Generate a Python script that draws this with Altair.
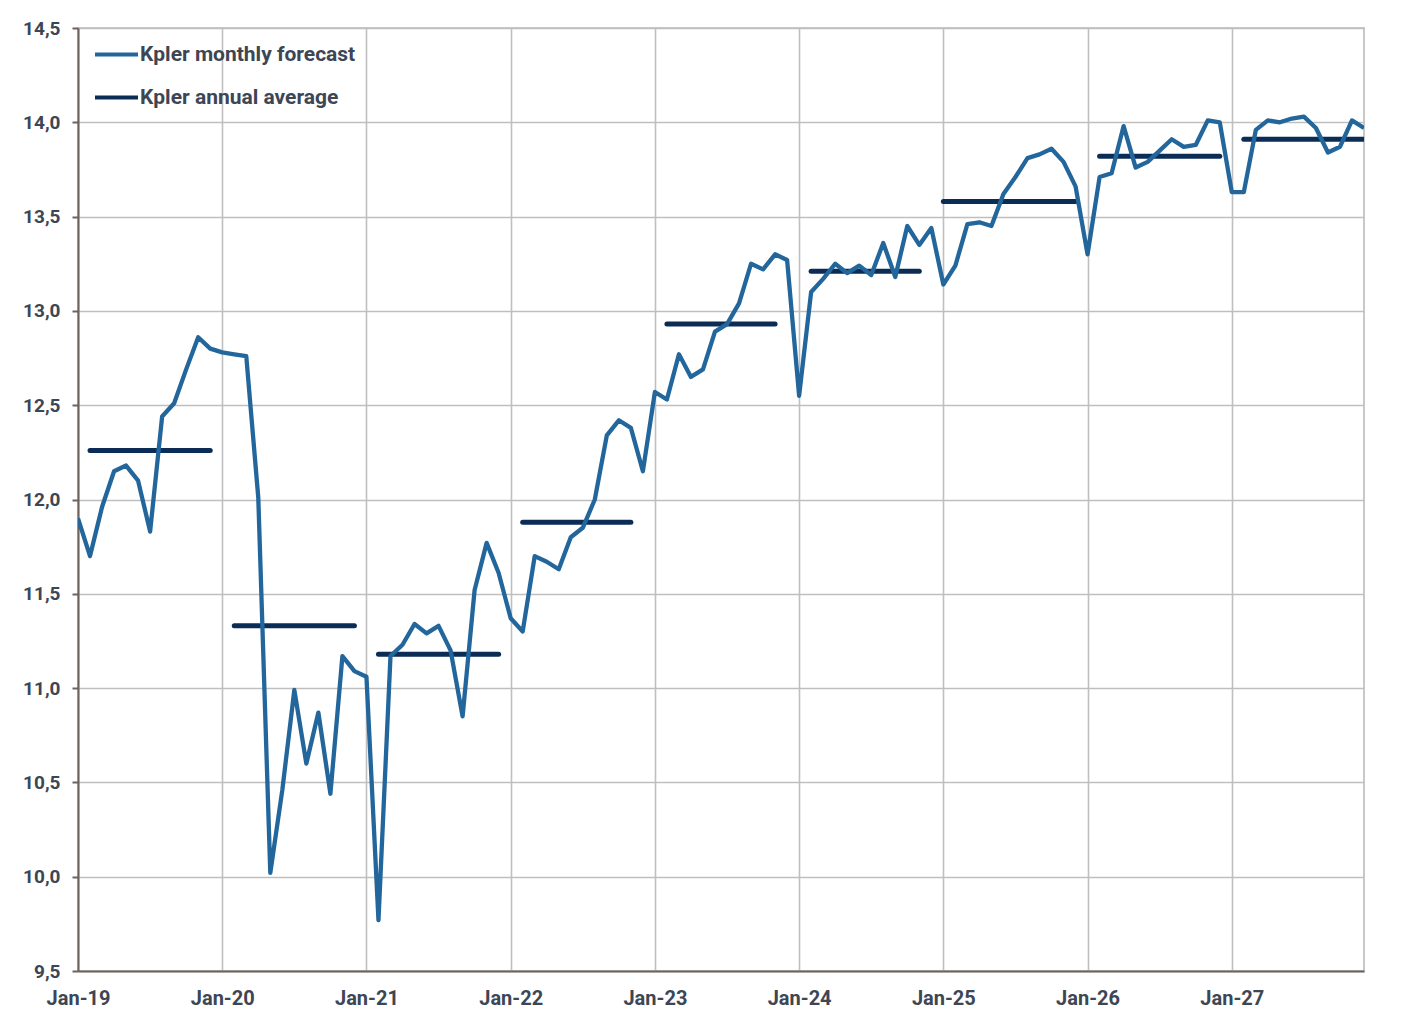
import altair as alt
import pandas as pd

# ---- data ----
years = [2019, 2020, 2021, 2022, 2023, 2024, 2025, 2026, 2027]
x_labels = ["Jan-19", "Jan-20", "Jan-21", "Jan-22", "Jan-23", "Jan-24", "Jan-25", "Jan-26", "Jan-27"]
series_names = ["Kpler monthly forecast", "Kpler annual average"]

m2019 = [11.90, 11.70, 11.96, 12.15, 12.18, 12.10, 11.83, 12.44, 12.51, 12.69, 12.86, 12.80]
m2020 = [12.78, 12.77, 12.76, 12.01, 10.02, 10.46, 10.99, 10.60, 10.87, 10.44, 11.17, 11.09]
m2021 = [11.06, 9.77, 11.17, 11.23, 11.34, 11.29, 11.33, 11.20, 10.85, 11.52, 11.77, 11.61]
m2022 = [11.37, 11.30, 11.70, 11.67, 11.63, 11.80, 11.85, 12.00, 12.34, 12.42, 12.38, 12.15]
m2023 = [12.57, 12.53, 12.77, 12.65, 12.69, 12.89, 12.93, 13.04, 13.25, 13.22, 13.30, 13.27]
m2024 = [12.55, 13.10, 13.17, 13.25, 13.20, 13.24, 13.19, 13.36, 13.18, 13.45, 13.35, 13.44]
m2025 = [13.14, 13.24, 13.46, 13.47, 13.45, 13.62, 13.71, 13.81, 13.83, 13.86, 13.79, 13.66]
m2026 = [13.30, 13.71, 13.73, 13.98, 13.76, 13.79, 13.85, 13.91, 13.87, 13.88, 14.01, 14.00]
m2027 = [13.63, 13.63, 13.96, 14.01, 14.00, 14.02, 14.03, 13.97, 13.84, 13.87, 14.01, 13.97]

annual_avg = [12.26, 11.33, 11.18, 11.88, 12.93, 13.21, 13.58, 13.82, 13.91]
# month-of-year (0 = Jan) where each annual-average segment starts / ends
avg_start_month = [1, 1, 1, 1, 1, 1, 0, 1, 1]
avg_end_month = [11, 11, 11, 10, 10, 10, 11, 11, 11]

y_ticks = [9.5, 10.0, 10.5, 11.0, 11.5, 12.0, 12.5, 13.0, 13.5, 14.0, 14.5]

# ---- tables ----
monthly = m2019 + m2020 + m2021 + m2022 + m2023 + m2024 + m2025 + m2026 + m2027
monthly_df = pd.DataFrame({
    "month": list(range(len(monthly))),
    "value": monthly,
    "series": series_names[0],
})

rows = []
for i, yr in enumerate(years):
    for mm in (avg_start_month[i], avg_end_month[i]):
        rows.append({"month": 12 * i + mm, "value": annual_avg[i], "year": yr, "series": series_names[1]})
annual_df = pd.DataFrame(rows)

label_array = "[" + ",".join("'" + s + "'" for s in x_labels) + "]"

LABEL_COLOR = "#3d4654"
AXIS_BROWN = "#6e625d"

x_enc = alt.X(
    "month:Q",
    title=None,
    scale=alt.Scale(domain=[0, 107], nice=False, zero=False),
    axis=alt.Axis(
        values=[12 * i for i in range(len(x_labels))],
        labelExpr=label_array + "[round(datum.value / 12)]",
        ticks=False,
        labelFont="Roboto",
        labelFontWeight="bold",
        labelColor=LABEL_COLOR,
        labelFontSize=20,
        labelPadding=17,
        labelFlush=False,
        labelOverlap=False,
        grid=True,
        gridColor="#bfbfbf",
        gridWidth=1.6,
        domainColor=AXIS_BROWN,
        domainWidth=2,
    ),
)
y_enc = alt.Y(
    "value:Q",
    title=None,
    scale=alt.Scale(domain=[9.5, 14.5], nice=False, zero=False),
    axis=alt.Axis(
        values=y_ticks,
        labelExpr="replace(format(datum.value, '.1f'), '.', ',')",
        labelFont="Roboto",
        labelFontWeight="bold",
        labelColor=LABEL_COLOR,
        labelFontSize=19,
        labelFlush=False,
        labelOverlap=False,
        tickSize=6,
        tickWidth=2,
        tickColor=AXIS_BROWN,
        labelPadding=12,
        grid=True,
        gridColor="#bfbfbf",
        gridWidth=1.6,
        domainColor=AXIS_BROWN,
        domainWidth=2,
    ),
)
color_enc = alt.Color(
    "series:N",
    title=None,
    scale=alt.Scale(domain=series_names, range=["#23669c", "#0b2d55"]),
    sort=series_names,
    legend=alt.Legend(
        orient="none",
        legendX=15,
        legendY=3,
        symbolType="stroke",
        symbolSize=1849,
        symbolStrokeWidth=4,
        labelFont="Roboto",
        labelFontWeight="bold",
        labelFontSize=21,
        labelColor=LABEL_COLOR,
        labelLimit=500,
        labelOffset=0,
        rowPadding=9,
        padding=0,
    ),
)

annual = alt.Chart(annual_df).mark_line(strokeWidth=5, strokeCap="round", clip=True).encode(
    x=x_enc, y=y_enc, color=color_enc, detail="year:N"
)
monthly_line = alt.Chart(monthly_df).mark_line(strokeWidth=4.3, strokeJoin="round", clip=True).encode(
    x=x_enc, y=y_enc, color=color_enc
)

chart = (
    alt.layer(annual, monthly_line)
    .properties(
        width=1286,
        height=943,
        background="white",
        autosize=alt.AutoSizeParams(type="none"),
        padding={"left": 70, "top": 20, "right": 30, "bottom": 52},
    )
    .configure_view(stroke="#c8c8c8", strokeWidth=2)
)

chart.save("out.html", embed_options={"renderer": "svg", "actions": False})
